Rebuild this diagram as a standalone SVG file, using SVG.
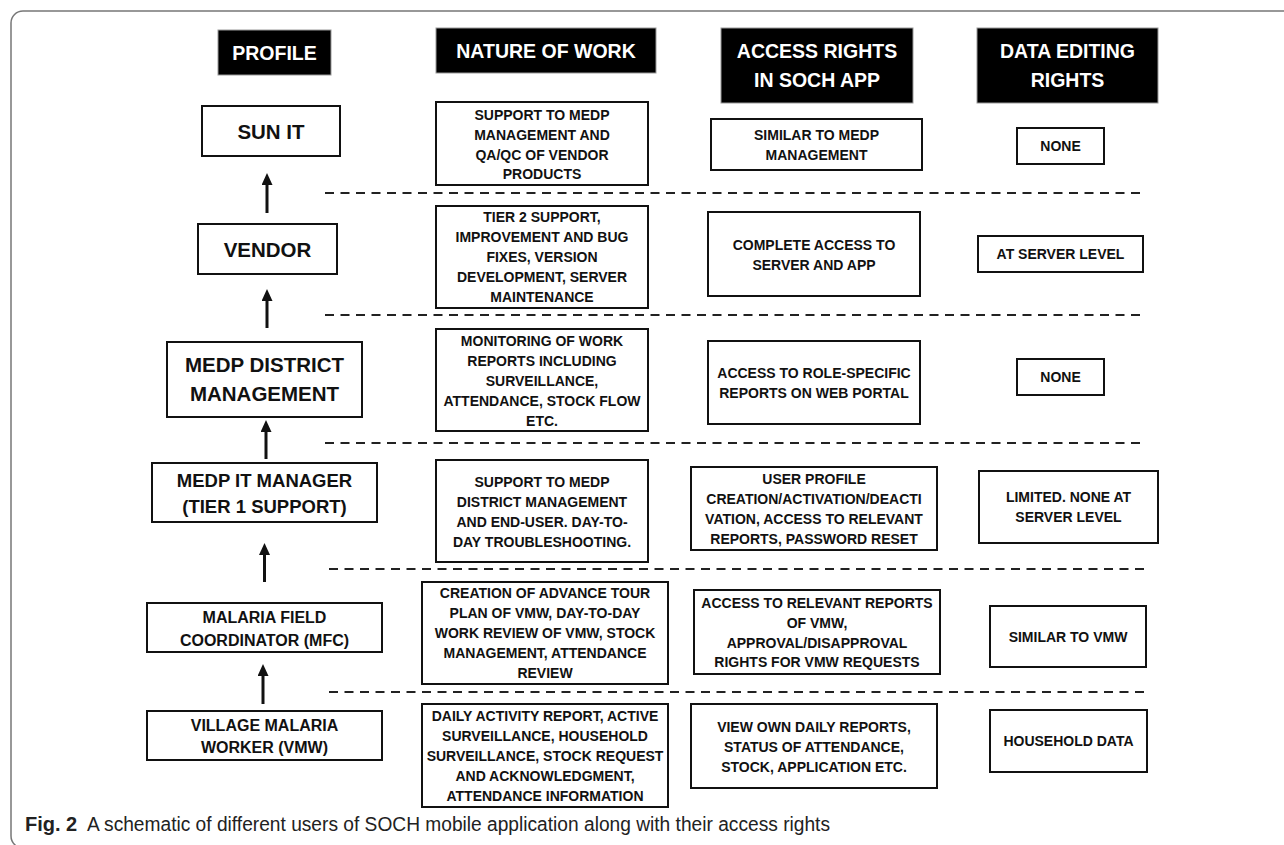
<svg xmlns="http://www.w3.org/2000/svg" width="1284" height="845" viewBox="0 0 1284 845">
<defs>
<style>
.box{fill:#fff;stroke:#111;stroke-width:2}
.hdr{fill:#000;stroke:#999;stroke-width:1}
.t{font-family:"Liberation Sans",Arial,sans-serif;font-weight:bold;font-size:14px;text-anchor:middle;fill:#111}
.h{font-size:19.5px;fill:#fff}
.p{font-size:20.5px}
.p2{font-size:18.5px}
.p3{font-size:16px}
.dash{stroke:#222;stroke-width:2;stroke-dasharray:9 6.5;fill:none}
.arr{stroke:#111;stroke-width:3;fill:none;marker-end:url(#ah)}
.cap{font-family:"Liberation Sans",Arial,sans-serif;font-size:20px;fill:#222}
</style>
<marker id="ah" markerUnits="userSpaceOnUse" markerWidth="12" markerHeight="11" viewBox="0 0 12 11" refX="4" refY="5.5" orient="auto">
<path d="M0,0 L12,5.5 L0,11 z" fill="#111"/>
</marker>
</defs>
<rect width="1284" height="845" fill="#fff"/>
<rect x="11" y="11" width="1300" height="837" rx="12" fill="none" stroke="#777" stroke-width="1.5"/>

<g id="headers">
<g id="h-profile"><rect class="hdr" x="218" y="30" width="113" height="45"/><text class="t h" x="274.5" y="60">PROFILE</text></g>
<g id="h-nature"><rect class="hdr" x="436" y="28" width="220" height="45"/><text class="t h" x="546" y="58">NATURE OF WORK</text></g>
<g id="h-access"><rect class="hdr" x="721" y="28" width="192" height="75"/><text class="t h" x="817" y="58">ACCESS RIGHTS</text><text class="t h" x="817" y="87">IN SOCH APP</text></g>
<g id="h-data"><rect class="hdr" x="977" y="28" width="181" height="75"/><text class="t h" x="1067.5" y="58">DATA EDITING</text><text class="t h" x="1067.5" y="87">RIGHTS</text></g>
</g>

<g id="connectors">
<line class="dash" x1="325" y1="193" x2="1145" y2="193"/>
<line class="dash" x1="325" y1="315" x2="1145" y2="315"/>
<line class="dash" x1="325" y1="443" x2="1145" y2="443"/>
<line class="dash" x1="329" y1="569" x2="1149" y2="569"/>
<line class="dash" x1="329" y1="692" x2="1149" y2="692"/>
<line class="arr" x1="267" y1="213" x2="267" y2="181"/>
<line class="arr" x1="267" y1="328" x2="267" y2="297"/>
<line class="arr" x1="266" y1="459" x2="266" y2="428"/>
<line class="arr" x1="264.5" y1="582" x2="264.5" y2="551"/>
<line class="arr" x1="263" y1="704" x2="263" y2="672"/>
</g>

<g id="sun-it"><rect class="box" x="202" y="106" width="138" height="50"/><text class="t p" x="271" y="139">SUN IT</text></g>
<g id="vendor"><rect class="box" x="198" y="224" width="139" height="50"/><text class="t p" x="267.5" y="257">VENDOR</text></g>
<g id="medp-district"><rect class="box" x="167" y="342" width="195" height="75"/><text class="t p" x="264.5" y="372">MEDP DISTRICT</text><text class="t p" x="264.5" y="400.5">MANAGEMENT</text></g>
<g id="medp-it"><rect class="box" x="152" y="463" width="225" height="59"/><text class="t p2" x="264.5" y="487">MEDP IT MANAGER</text><text class="t p2" x="264.5" y="513">(TIER 1 SUPPORT)</text></g>
<g id="mfc"><rect class="box" x="147" y="603" width="235" height="49"/><text class="t p3" x="264.5" y="623">MALARIA FIELD</text><text class="t p3" x="264.5" y="646">COORDINATOR (MFC)</text></g>
<g id="vmw"><rect class="box" x="147" y="711" width="235" height="49"/><text class="t p3" x="264.5" y="731">VILLAGE MALARIA</text><text class="t p3" x="264.5" y="753">WORKER (VMW)</text></g>

<g id="work-sun"><rect class="box" x="436" y="102" width="212" height="83"/>
<text class="t" x="542" y="120">SUPPORT TO MEDP</text><text class="t" x="542" y="140">MANAGEMENT AND</text><text class="t" x="542" y="160">QA/QC OF VENDOR</text><text class="t" x="542" y="179">PRODUCTS</text></g>
<g id="work-vendor"><rect class="box" x="436" y="206" width="212" height="102"/>
<text class="t" x="542" y="222">TIER 2 SUPPORT,</text><text class="t" x="542" y="242">IMPROVEMENT AND BUG</text><text class="t" x="542" y="262">FIXES, VERSION</text><text class="t" x="542" y="282">DEVELOPMENT, SERVER</text><text class="t" x="542" y="302">MAINTENANCE</text></g>
<g id="work-district"><rect class="box" x="436" y="329" width="212" height="102"/>
<text class="t" x="542" y="346">MONITORING OF WORK</text><text class="t" x="542" y="366">REPORTS INCLUDING</text><text class="t" x="542" y="386">SURVEILLANCE,</text><text class="t" x="542" y="406">ATTENDANCE, STOCK FLOW</text><text class="t" x="542" y="426">ETC.</text></g>
<g id="work-it"><rect class="box" x="436" y="460" width="212" height="102"/>
<text class="t" x="542" y="487">SUPPORT TO MEDP</text><text class="t" x="542" y="507">DISTRICT MANAGEMENT</text><text class="t" x="542" y="527">AND END-USER. DAY-TO-</text><text class="t" x="542" y="547">DAY TROUBLESHOOTING.</text></g>
<g id="work-mfc"><rect class="box" x="422" y="582" width="246" height="102"/>
<text class="t" x="545" y="598">CREATION OF ADVANCE TOUR</text><text class="t" x="545" y="618">PLAN OF VMW, DAY-TO-DAY</text><text class="t" x="545" y="638">WORK REVIEW OF VMW, STOCK</text><text class="t" x="545" y="658">MANAGEMENT, ATTENDANCE</text><text class="t" x="545" y="678">REVIEW</text></g>
<g id="work-vmw"><rect class="box" x="422" y="704" width="246" height="103"/>
<text class="t" x="545" y="721">DAILY ACTIVITY REPORT, ACTIVE</text><text class="t" x="545" y="741">SURVEILLANCE, HOUSEHOLD</text><text class="t" x="545" y="761">SURVEILLANCE, STOCK REQUEST</text><text class="t" x="545" y="781">AND ACKNOWLEDGMENT,</text><text class="t" x="545" y="801">ATTENDANCE INFORMATION</text></g>

<g id="access-sun"><rect class="box" x="711" y="119" width="211" height="51"/>
<text class="t" x="816.5" y="140">SIMILAR TO MEDP</text><text class="t" x="816.5" y="160">MANAGEMENT</text></g>
<g id="access-vendor"><rect class="box" x="708" y="212" width="212" height="84"/>
<text class="t" x="814" y="250">COMPLETE ACCESS TO</text><text class="t" x="814" y="270">SERVER AND APP</text></g>
<g id="access-district"><rect class="box" x="708" y="341" width="212" height="83"/>
<text class="t" x="814" y="378">ACCESS TO ROLE-SPECIFIC</text><text class="t" x="814" y="398">REPORTS ON WEB PORTAL</text></g>
<g id="access-it"><rect class="box" x="691" y="467" width="246" height="83"/>
<text class="t" x="814" y="484">USER PROFILE</text><text class="t" x="814" y="504">CREATION/ACTIVATION/DEACTI</text><text class="t" x="814" y="524">VATION, ACCESS TO RELEVANT</text><text class="t" x="814" y="544">REPORTS, PASSWORD RESET</text></g>
<g id="access-mfc"><rect class="box" x="694" y="590" width="246" height="84"/>
<text class="t" x="817" y="608">ACCESS TO RELEVANT REPORTS</text><text class="t" x="817" y="628">OF VMW,</text><text class="t" x="817" y="648">APPROVAL/DISAPPROVAL</text><text class="t" x="817" y="667">RIGHTS FOR VMW REQUESTS</text></g>
<g id="access-vmw"><rect class="box" x="691" y="704" width="246" height="84"/>
<text class="t" x="814" y="732">VIEW OWN DAILY REPORTS,</text><text class="t" x="814" y="752">STATUS OF ATTENDANCE,</text><text class="t" x="814" y="772">STOCK, APPLICATION ETC.</text></g>

<g id="data-sun"><rect class="box" x="1017" y="128" width="87" height="36"/><text class="t" x="1060.5" y="151">NONE</text></g>
<g id="data-vendor"><rect class="box" x="978" y="236" width="165" height="36"/><text class="t" x="1060.5" y="259">AT SERVER LEVEL</text></g>
<g id="data-district"><rect class="box" x="1017" y="359" width="87" height="36"/><text class="t" x="1060.5" y="382">NONE</text></g>
<g id="data-it"><rect class="box" x="979" y="471" width="179" height="72"/><text class="t" x="1068.5" y="502">LIMITED. NONE AT</text><text class="t" x="1068.5" y="522">SERVER LEVEL</text></g>
<g id="data-mfc"><rect class="box" x="990" y="606" width="156" height="61"/><text class="t" x="1068" y="642">SIMILAR TO VMW</text></g>
<g id="data-vmw"><rect class="box" x="990" y="710" width="157" height="62"/><text class="t" x="1068.5" y="746">HOUSEHOLD DATA</text></g>

<g id="caption">
<text class="cap" x="25" y="831" font-weight="bold" font-size="20px">Fig. 2</text>
<text class="cap" x="87" y="831" textLength="743" lengthAdjust="spacingAndGlyphs">A schematic of different users of SOCH mobile application along with their access rights</text>
</g>
</svg>
